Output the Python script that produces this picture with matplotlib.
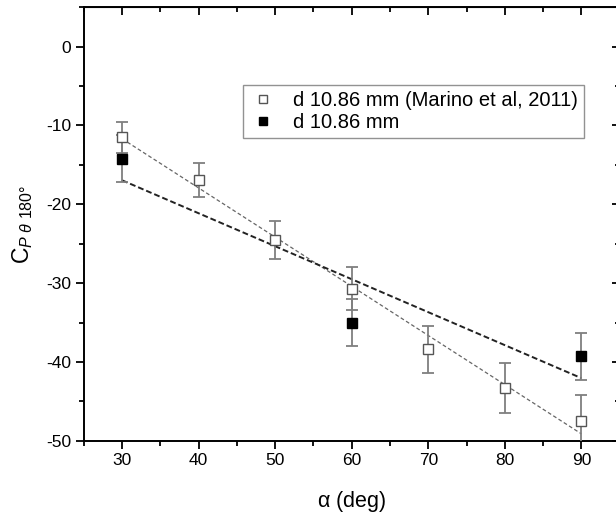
import numpy as np
import matplotlib.pyplot as plt
from matplotlib.ticker import MultipleLocator

plt.rcParams['font.family'] = ['Liberation Sans', 'DejaVu Sans']
plt.rcParams['mathtext.fontset'] = 'custom'
plt.rcParams['mathtext.rm'] = 'Liberation Sans'
plt.rcParams['mathtext.it'] = 'Liberation Sans:italic'
plt.rcParams['axes.unicode_minus'] = False

# Data
alpha_ref = [30, 40, 50, 60, 70, 80, 90]
cp_ref = [-11.5, -16.9, -24.5, -30.7, -38.4, -43.3, -47.5]
err_ref = [2.0, 2.2, 2.4, 2.7, 2.95, 3.15, 3.3]

alpha_new = [30, 60, 90]
cp_new = [-14.2, -35.0, -39.3]
err_new = [3.0, 3.0, 3.0]

fig = plt.figure(figsize=(6.16, 5.18), dpi=100)
ax = fig.add_axes([0.136, 0.149, 0.870, 0.837])

# linear fits
xf = np.array([30, 90])
p_ref = np.polyfit(alpha_ref, cp_ref, 1)
p_new = np.polyfit(alpha_new, cp_new, 1)
ax.plot(xf, np.polyval(p_ref, xf), color='#666666', lw=0.9, ls=(0, (3, 2)), zorder=2)
ax.plot(xf, np.polyval(p_new, xf), color='#222222', lw=1.4, ls=(0, (3, 1.5)), zorder=2)

ax.errorbar(alpha_ref, cp_ref, yerr=err_ref, fmt='none', ecolor='#7f7f7f',
            elinewidth=1.3, capsize=4.5, capthick=1.3, zorder=3)
ax.errorbar(alpha_new, cp_new, yerr=err_new, fmt='none', ecolor='#7f7f7f',
            elinewidth=1.3, capsize=4.5, capthick=1.3, zorder=3)
ax.plot(alpha_ref, cp_ref, 's', ms=7.5, mfc='white', mec='#555555', mew=1.0,
        label='d 10.86 mm (Marino et al, 2011)', zorder=4)
ax.plot(alpha_new, cp_new, 's', ms=7.5, mfc='black', mec='black', mew=1.0,
        label='d 10.86 mm', zorder=4)

ax.set_xlim(25, 95)
ax.set_ylim(-50, 5)
ax.xaxis.set_major_locator(MultipleLocator(10))
ax.xaxis.set_minor_locator(MultipleLocator(5))
ax.yaxis.set_major_locator(MultipleLocator(10))
ax.yaxis.set_minor_locator(MultipleLocator(5))
ax.set_xticks([30, 40, 50, 60, 70, 80, 90])
ax.tick_params(which='both', direction='out', width=1.3, labelsize=12.5)
ax.tick_params(which='major', length=5.5)
ax.tick_params(which='minor', length=3.5)
for s in ax.spines.values():
    s.set_linewidth(1.4)

# mirrored ticks pointing in on top and right
top = ax.secondary_xaxis('top')
top.xaxis.set_major_locator(MultipleLocator(10))
top.xaxis.set_minor_locator(MultipleLocator(5))
top.tick_params(which='both', direction='in', width=1.3, labeltop=False)
top.tick_params(which='major', length=5.5)
top.tick_params(which='minor', length=3.5)
right = ax.secondary_yaxis('right')
right.yaxis.set_major_locator(MultipleLocator(10))
right.yaxis.set_minor_locator(MultipleLocator(5))
right.tick_params(which='both', direction='in', width=1.3, labelright=False)
right.tick_params(which='major', length=5.5)
right.tick_params(which='minor', length=3.5)

ax.set_xlabel(r'$\mathrm{\alpha}$ (deg)', fontsize=15.5, labelpad=15)
ax.set_ylabel(r'$\mathrm{C}_{P\ \theta\ 180°}$', fontsize=16.5, labelpad=8)

leg = ax.legend(loc='upper left', bbox_to_anchor=(0.297, 0.82), borderaxespad=0,
                fontsize=14.5, frameon=True, fancybox=False, markerscale=0.7,
                handletextpad=0.8, borderpad=0.3, labelspacing=0.15,
                handlelength=1.4)
leg.get_frame().set_edgecolor('#777777')
leg.get_frame().set_linewidth(1.0)

plt.savefig('out.png', dpi=100)
